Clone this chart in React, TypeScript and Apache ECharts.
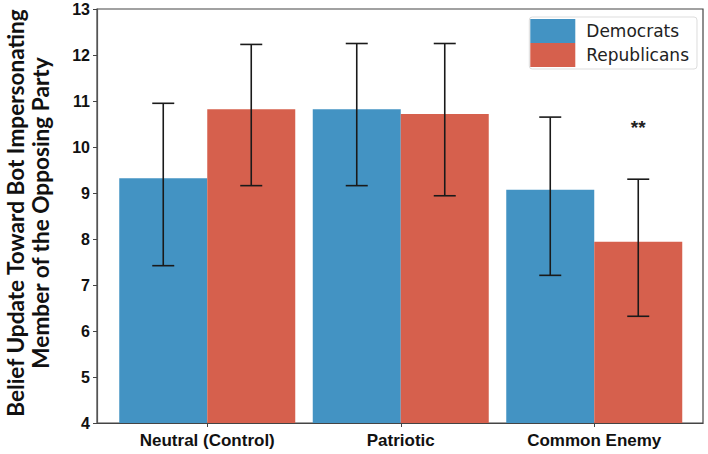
import React, { useEffect, useRef } from "react";
import * as echarts from "echarts";

const categories = ["Neutral (Control)", "Patriotic", "Common Enemy"];
const seriesNames = ["Democrats", "Republicans"];
const demMeans = [9.32, 10.82, 9.07];
const repMeans = [10.82, 10.72, 7.94];
const demLow = [7.42, 9.16, 7.21];
const demHigh = [10.95, 12.25, 10.65];
const repLow = [9.16, 8.94, 6.32];
const repHigh = [12.23, 12.25, 9.3];
const repSigLabels = ["", "", "**"];
const repSigValues = [null, null, 10.42];
const yMin = 4;
const yMax = 13;
const yInterval = 1;
const yTitle = "Belief Update Toward Bot Impersonating\nMember of the Opposing Party";

const BLUE = "#4393c3";
const RED = "#d6604d";
const BAR_W = 88;

function errorRender(offset: number) {
  return (params: any, api: any) => {
    const idx = api.value(0);
    const lo = api.coord([idx, api.value(1)]);
    const hi = api.coord([idx, api.value(2)]);
    const cx = lo[0] + offset;
    const cap = 11;
    const style = { stroke: "#1a1a1a", lineWidth: 1.6 };
    return {
      type: "group",
      children: [
        { type: "line", shape: { x1: cx, y1: hi[1], x2: cx, y2: lo[1] }, style },
        { type: "line", shape: { x1: cx - cap, y1: hi[1], x2: cx + cap, y2: hi[1] }, style },
        { type: "line", shape: { x1: cx - cap, y1: lo[1], x2: cx + cap, y2: lo[1] }, style },
      ],
    };
  };
}

export default function App() {
  const ref = useRef<HTMLDivElement>(null);
  useEffect(() => {
    if (!ref.current) return;
    const chart = echarts.init(ref.current, undefined, { renderer: "svg" });
    const labelFont = "'Liberation Sans', Arial, sans-serif";
    const option: any = {
      animation: false,
      backgroundColor: "#ffffff",
      grid: [
        { left: 110.5, width: 580.5, top: 9, bottom: 31 },
        {
          left: 97,
          right: 5,
          top: 9,
          bottom: 31,
          show: true,
          borderColor: "#444",
          borderWidth: 1.2,
          backgroundColor: "transparent",
        },
      ],
      legend: {
        data: seriesNames,
        orient: "vertical",
        right: 11,
        top: 17,
        itemWidth: 45,
        itemHeight: 24,
        itemGap: 0,
        icon: "rect",
        padding: [2, 8, 2, 1],
        borderColor: "#dddddd",
        borderWidth: 1,
        borderRadius: 3,
        backgroundColor: "#ffffff",
        textStyle: {
          fontFamily: "'DejaVu Sans', sans-serif",
          fontSize: 17,
          color: "#222",
          padding: [0, 0, 0, 6],
        },
      },
      xAxis: [
        {
          type: "category",
          gridIndex: 0,
          data: categories,
          boundaryGap: true,
          axisLine: { show: false },
          axisTick: { show: true, alignWithLabel: true, length: 4, lineStyle: { color: "#444" } },
          axisLabel: {
            margin: 9,
            fontFamily: labelFont,
            fontWeight: "bold",
            fontSize: 17,
            color: "#111",
          },
          splitLine: { show: false },
        },
        {
          type: "value",
          gridIndex: 1,
          min: 0,
          max: 1,
          axisLine: { show: true, lineStyle: { color: "#444", width: 1.2 } },
          axisTick: { show: false },
          axisLabel: { show: false },
          splitLine: { show: false },
        },
      ],
      yAxis: [
        {
          type: "value",
          gridIndex: 0,
          min: yMin,
          max: yMax,
          interval: yInterval,
          show: false,
        },
        {
          type: "value",
          gridIndex: 1,
          min: yMin,
          max: yMax,
          interval: yInterval,
          axisLine: { show: true, lineStyle: { color: "#555", width: 1.2 } },
          axisTick: { show: true, length: 4, lineStyle: { color: "#444" } },
          axisLabel: {
            margin: 7,
            fontFamily: labelFont,
            fontWeight: "bold",
            fontSize: 16,
            color: "#111",
          },
          splitLine: { show: false },
        },
      ],
      graphic: [
        {
          type: "text",
          x: 28,
          y: 213,
          rotation: Math.PI / 2,
          style: {
            text: yTitle,
            fontFamily: "Lato, 'Open Sans', sans-serif",
            fontWeight: "bold",
            fontSize: 22.6,
            lineHeight: 25,
            fill: "#111",
            textAlign: "center",
            textVerticalAlign: "middle",
          },
        },
      ],
      series: [
        {
          name: seriesNames[0],
          type: "bar",
          xAxisIndex: 0,
          yAxisIndex: 0,
          data: demMeans,
          barWidth: BAR_W,
          barGap: "0%",
          itemStyle: { color: BLUE },
        },
        {
          name: seriesNames[1],
          type: "bar",
          xAxisIndex: 0,
          yAxisIndex: 0,
          data: repMeans,
          barWidth: BAR_W,
          barGap: "0%",
          itemStyle: { color: RED },
        },
        {
          name: "errD",
          type: "custom",
          xAxisIndex: 0,
          yAxisIndex: 0,
          z: 5,
          data: categories.map((_, i) => [i, demLow[i], demHigh[i]]),
          renderItem: errorRender(-BAR_W / 2),
        },
        {
          name: "errR",
          type: "custom",
          xAxisIndex: 0,
          yAxisIndex: 0,
          z: 5,
          data: categories.map((_, i) => [i, repLow[i], repHigh[i]]),
          renderItem: errorRender(BAR_W / 2),
        },
        {
          name: "sig",
          type: "custom",
          xAxisIndex: 0,
          yAxisIndex: 0,
          z: 6,
          data: categories
            .map((_, i) => [i, repSigValues[i], i])
            .filter((d) => d[1] !== null),
          renderItem: (params: any, api: any) => {
            const idx = api.value(0);
            const p = api.coord([idx, api.value(1)]);
            const label = repSigLabels[api.value(2)];
            return {
              type: "text",
              x: p[0] + BAR_W / 2,
              y: p[1],
              style: {
                text: label,
                fontFamily: labelFont,
                fontWeight: "bold",
                fontSize: 19,
                fill: "#222",
                textAlign: "center",
                textVerticalAlign: "middle",
              },
            };
          },
        },
      ],
    };
    chart.setOption(option);
    return () => chart.dispose();
  }, []);
  return (
    <div
      ref={ref}
      style={{ position: "fixed", left: 0, top: 0, width: 708, height: 454 }}
    />
  );
}
